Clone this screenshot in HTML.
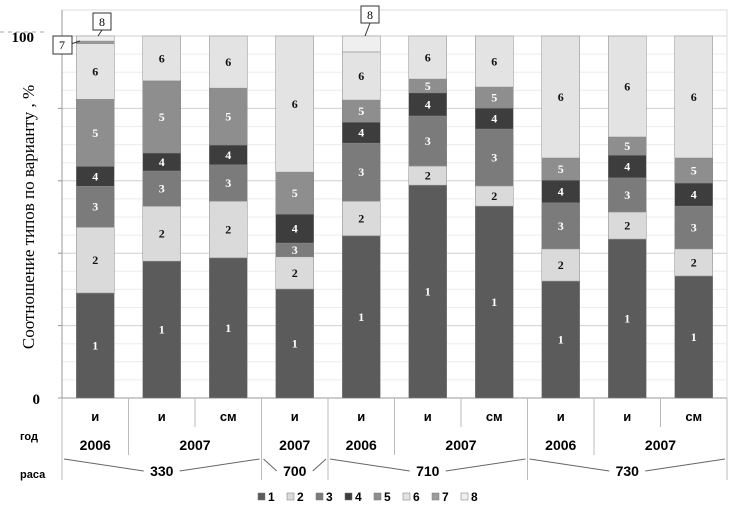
<!DOCTYPE html>
<html><head><meta charset="utf-8"><style>
body{margin:0;background:#fff;width:732px;height:520px;overflow:hidden}
svg{display:block}
</style></head><body>
<svg id="chart" width="732" height="520" xmlns="http://www.w3.org/2000/svg" font-family="Liberation Sans, sans-serif"></svg>
<script>
const categories=["и","и","см","и","и","и","см","и","и","см"];
const years=["2006","2007","2007","2006","2007","2006","2007"];
const yearSpans=[1,2,1,1,2,1,2];
const races=["330","700","710","730"];
const raceSpans=[3,1,3,3];
const s1=[29,37.8,38.7,30.1,44.8,58.8,53,32.3,43.9,33.7];
const s2=[18.2,15.2,15.7,8.9,9.6,5.3,5.6,8.9,7.5,7.5];
const s3=[11.3,9.7,10,3.8,16,13.8,15.7,12.7,9.4,11.8];
const s4=[5.5,5,5.5,8,5.8,6.4,5.8,6.3,6.3,6.4];
const s5=[18.5,19.9,15.7,11.6,6.1,3.8,5.8,6.1,5,6.9];
const s6=[15.4,12.4,14.4,37.6,13.3,11.9,14.1,33.7,27.9,33.7];
const s7=[0.7,0,0,0,0,0,0,0,0,0];
const s8=[1.4,0,0,0,4.4,0,0,0,0,0];
const series=[s1,s2,s3,s4,s5,s6,s7,s8];
const seriesNames=["1","2","3","4","5","6","7","8"];
const yTicks=[0,100];
const colors=["#5b5b5b","#dadada","#7b7b7b","#3d3d3d","#8e8e8e","#e3e3e3","#9c9c9c","#efefef"];
const txtCol=["#fff","#111","#fff","#fff","#fff","#111","#111","#111"];
const svg=document.getElementById('chart');
const NS="http://www.w3.org/2000/svg";
function el(t,a,p){const e=document.createElementNS(NS,t);for(const k in a)e.setAttribute(k,a[k]);(p||svg).appendChild(e);return e;}
const X0=62,X1=727,Y0=398,Y100=36;
const cw=(X1-X0)/categories.length;
const y=v=>Y0-(Y0-Y100)*v/100;
const xc=i=>X0+cw*(i+0.5);
const g=el('g',{});


el('rect',{x:X0,y:10,width:X1-X0,height:Y0-10,fill:'none',stroke:'#ddd'},g);
for(let v=5;v<=100;v+=5){el('line',{x1:X0,x2:X1,y1:y(v),y2:y(v),stroke:v%20==0?'#d0d0d0':'#ececec'},g);}
el('line',{x1:0,x2:44,y1:32,y2:32,stroke:'#aaa','stroke-dasharray':'4,4'});
el('line',{x1:X0,x2:X0,y1:10,y2:Y0,stroke:'#999'});
el('line',{x1:X0,x2:X1,y1:Y0,y2:Y0,stroke:'#999'});
for(let v=0;v<=100;v+=20)el('line',{x1:X0-4,x2:X0,y1:y(v),y2:y(v),stroke:'#999'});
yTicks.forEach(v=>{const t=el('text',{x:v==0?40:34,y:y(v)+6,'text-anchor':'end','font-size':15,'font-weight':'bold','font-family':'Liberation Serif, serif'});t.textContent=v;

});
const yt=el('text',{x:34,y:217,'text-anchor':'middle','font-size':17,'font-family':'Liberation Serif, "Noto Serif CJK SC", serif',transform:'rotate(-90 34 217)'});
yt.textContent='Соотношение типов по варианту , %';


const bw=38;
categories.forEach((c,i)=>{
  let acc=0;
  series.forEach((s,k)=>{
    const v=s[i];if(v<=0){return;}
    const r=el('rect',{x:xc(i)-bw/2,y:y(acc+v),width:bw,height:y(acc)-y(acc+v),fill:colors[k],stroke:'#888','stroke-width':0.5});
    
    
    if(k<6&&v>=3){const t=el('text',{x:xc(i),y:(y(acc)+y(acc+v))/2+4,'text-anchor':'middle','font-size':12,'font-weight':'bold',fill:txtCol[k],'font-family':'Liberation Serif, serif'});t.textContent=seriesNames[k];
    
    }
    acc+=v;
  });
});
function callout(txt,bx,by,tx,ty){el('line',{x1:bx,y1:by,x2:tx,y2:ty,stroke:'#333'});const r=el('rect',{x:bx-9,y:by-17,width:18,height:17,fill:'#fff',stroke:'#333'});const t=el('text',{x:bx,y:by-4,'text-anchor':'middle','font-size':12,'font-family':'Liberation Serif, serif'});t.textContent=txt;}
callout('8',102,30,98,36);
el('line',{x1:71,y1:44,x2:80,y2:41,stroke:'#333'});
(function(){const r=el('rect',{x:53,y:36,width:19,height:18,fill:'#fff',stroke:'#333'});const t=el('text',{x:62,y:49,'text-anchor':'middle','font-size':12,'font-family':'Liberation Serif, serif'});t.textContent='7';})();
callout('8',370,23,365,36);
categories.forEach((c,i)=>{const t=el('text',{x:xc(i),y:421,'text-anchor':'middle','font-size':13,'font-weight':'bold'});t.textContent=c;


el('line',{x1:X0+cw*i,x2:X0+cw*i,y1:Y0,y2:427,stroke:'#bbb'});});
el('line',{x1:X1,x2:X1,y1:Y0,y2:427,stroke:'#bbb'});
let idx=0;
years.forEach((yr,j)=>{const cx=X0+cw*(idx+yearSpans[j]/2);const t=el('text',{x:cx,y:450,'text-anchor':'middle','font-size':14,'font-weight':'bold'});t.textContent=yr;


el('line',{x1:X0+cw*idx,x2:X0+cw*idx,y1:427,y2:455,stroke:'#bbb'});idx+=yearSpans[j];});
el('line',{x1:X1,x2:X1,y1:427,y2:455,stroke:'#bbb'});
idx=0;
races.forEach((r,j)=>{const a=X0+cw*idx,b=X0+cw*(idx+raceSpans[j]),cx=(a+b)/2;
const t=el('text',{x:cx,y:476,'text-anchor':'middle','font-size':14,'font-weight':'bold'});t.textContent=r;


el('line',{x1:a+2,y1:459,x2:cx-18,y2:471,stroke:'#666'});
el('line',{x1:cx+18,y1:471,x2:b-2,y2:459,stroke:'#666'});
el('line',{x1:a,x2:a,y1:455,y2:480,stroke:'#bbb'});idx+=raceSpans[j];});
el('line',{x1:X1,x2:X1,y1:455,y2:480,stroke:'#bbb'});
[['год',440],['раса',478]].forEach(([s,yy])=>{const t=el('text',{x:20,y:yy,'font-size':11,'font-weight':'bold'});t.textContent=s;

});
seriesNames.forEach((n,k)=>{const lx=258+k*29;
const r=el('rect',{x:lx,y:493,width:7,height:7,fill:colors[k],stroke:'#777','stroke-width':0.5});


const t=el('text',{x:lx+10,y:501,'font-size':12,'font-weight':'bold'});t.textContent=n;

});
</script>
</body></html>
